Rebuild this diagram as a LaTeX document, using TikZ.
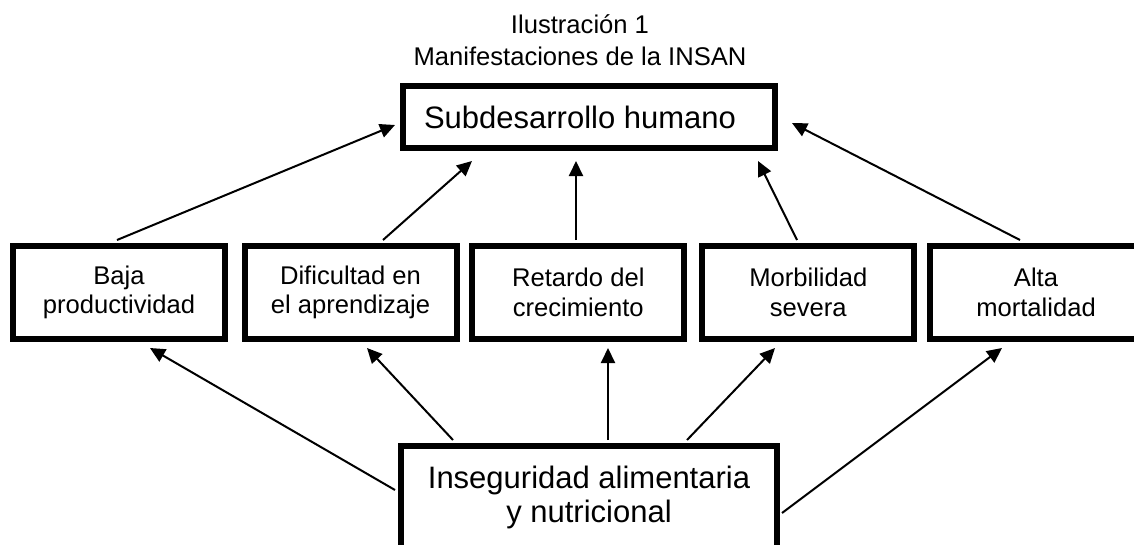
\documentclass[tikz,border=0pt]{standalone}
\usepackage{fontspec}
\setmainfont{Liberation Sans}
\usetikzlibrary{arrows.meta}
\begin{document}
\begin{tikzpicture}[x=1pt,y=-1pt,
  midbox/.style={draw, line width=6pt, inner sep=0pt, minimum width=212pt, minimum height=93pt, align=center, font=\fontsize{25.6}{29.5}\selectfont},
  bigbox/.style={draw, line width=6pt, inner sep=0pt},
  bigfont/.style={font=\fontsize{31}{34}\selectfont, align=center, inner sep=0pt},
  titlefont/.style={font=\fontsize{25.6}{31.7}\selectfont, align=center, inner sep=0pt},
  arr/.style={line width=2pt, -{Triangle[length=15pt,width=14pt]}}]
\useasboundingbox[fill=white] (0,0) rectangle (1134,544);

\node[titlefont] (title) at (580,40) {Ilustración 1\\Manifestaciones de la INSAN};

\node[bigbox, bigfont, minimum width=372pt, minimum height=62pt] (sub) at (589,117) {Subdesarrollo humano\hspace{18pt}};

\node[midbox] (baja) at (119,292.5) {Baja\\productividad};
\node[midbox] (dif) at (350.5,292.5) {Dificultad en\\el aprendizaje};
\node[midbox] (ret) at (578.3,292.5) {Retardo del\\crecimiento};
\node[midbox] (morb) at (808.3,292.5) {Morbilidad\\severa};
\node[midbox] (alta) at (1036,292.5) {Alta\\mortalidad};

\node[bigbox, minimum width=376pt, minimum height=120pt] (ian) at (589,506) {};
\node[bigfont] (iantext) at (589,497) {Inseguridad alimentaria\\y nutricional};

% arrows up to Subdesarrollo
\draw[arr] ([xshift=-2pt,yshift=3pt]baja.north) -- ([xshift=-5pt,yshift=-8pt]sub.west);
\draw[arr] ([xshift=32.5pt,yshift=3pt]dif.north) -- ([xshift=-117pt,yshift=-10pt]sub.south);
\draw[arr] ([xshift=-2.3pt,yshift=3pt]ret.north) -- ([xshift=-13pt,yshift=-10pt]sub.south);
\draw[arr] ([xshift=-11.3pt,yshift=3pt]morb.north) -- ([xshift=169pt,yshift=-10pt]sub.south);
\draw[arr] ([xshift=-16pt,yshift=3pt]alta.north) -- ([xshift=14pt,yshift=-6pt]sub.east);

% arrows from Inseguridad
\draw[arr] ([xshift=-3pt,yshift=16pt]ian.west) -- ([xshift=31pt,yshift=-6pt]baja.south);
\draw[arr] ([xshift=-136pt,yshift=3pt]ian.north) -- ([xshift=16.5pt,yshift=-6pt]dif.south);
\draw[arr] ([xshift=19pt,yshift=3pt]ian.north) -- ([xshift=29.7pt,yshift=-6pt]ret.south);
\draw[arr] ([xshift=98pt,yshift=3pt]ian.north) -- ([xshift=-33.3pt,yshift=-6pt]morb.south);
\draw[arr] ([xshift=2pt,yshift=-7pt]ian.east) -- ([xshift=-34pt,yshift=-6pt]alta.south);
\end{tikzpicture}
\end{document}
